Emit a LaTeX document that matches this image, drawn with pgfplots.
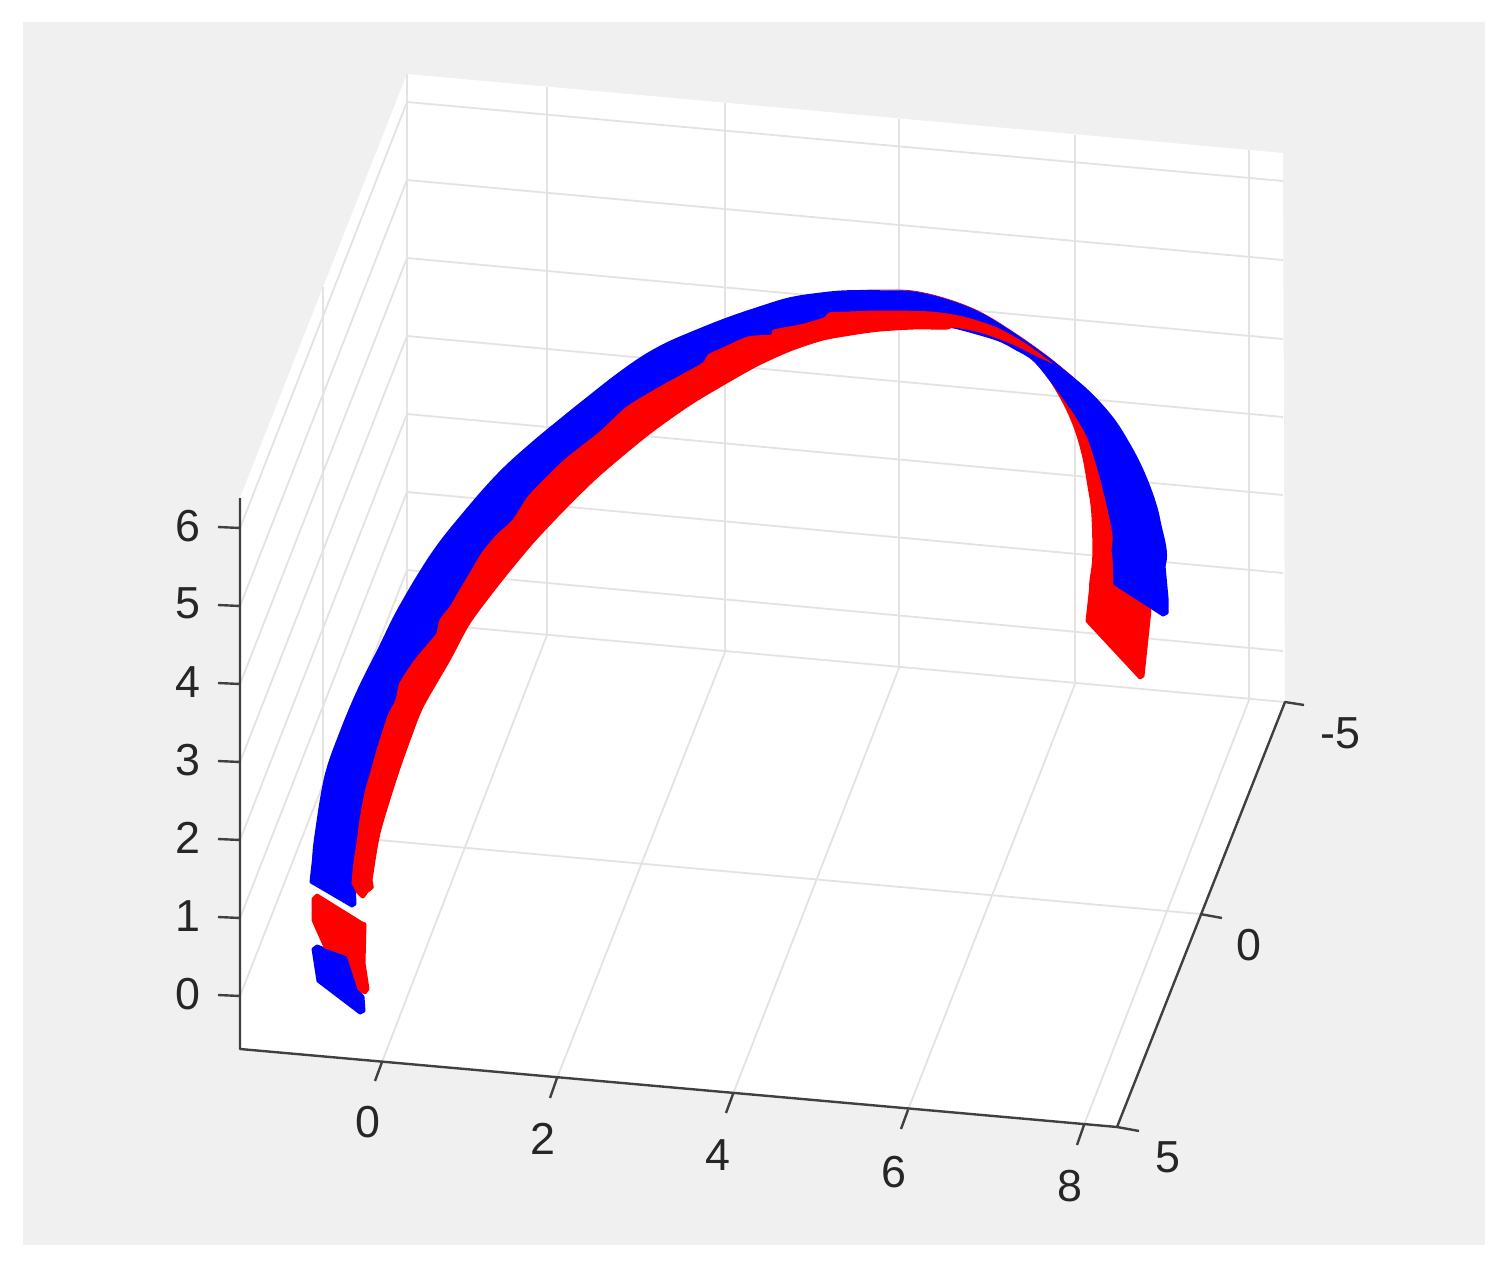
\documentclass[border=0pt]{standalone}
\usepackage{pgfplots}
\pgfplotsset{compat=1.18}
\usepackage{fontspec}
\setmainfont{Liberation Sans}
\definecolor{panel}{HTML}{F0F0F0}
\definecolor{gridc}{HTML}{E3E3E3}
\definecolor{axc}{HTML}{404040}
\definecolor{txt}{HTML}{262626}
\definecolor{rb}{rgb}{0,0,1}
\definecolor{rr}{rgb}{1,0,0}
\tikzset{lab/.style={font=\fontsize{45}{50}\selectfont, text=txt, inner sep=0pt, anchor=center}}
\begin{document}
\begin{tikzpicture}
\begin{axis}[
  hide axis, scale only axis, width=1511bp, height=1277bp,
  xmin=0, xmax=1511, ymin=0, ymax=1277, y dir=reverse,
  clip=false, unbounded coords=jump,
  every axis plot/.append style={line join=round},
]
% panel
\addplot[fill=white, draw=none] coordinates {(0,0)(1511,0)(1511,1277)(0,1277)} --cycle;
\addplot[fill=panel, draw=none] coordinates {(23,22)(1485,22)(1485,1245)(23,1245)} --cycle;
% white walls
\addplot[fill=white, draw=none] coordinates {(240,498)(407,74)(1283,153)(1285,702)(1117,1127)(240,1049)} --cycle;
% grid
\addplot[gridc, line width=1.8] coordinates {
 (407,102)(1283,181) (nan,nan) (407,180)(1283,260) (nan,nan) (407,258)(1283,339) (nan,nan)
 (407,336)(1283,417) (nan,nan) (407,414)(1283,495) (nan,nan) (407,492)(1283,573) (nan,nan)
 (407,570)(1283,651) (nan,nan)
 (407,102)(240,528) (nan,nan) (407,180)(240,606) (nan,nan) (407,258)(240,684) (nan,nan)
 (407,336)(240,762) (nan,nan) (407,414)(240,840) (nan,nan) (407,492)(240,918) (nan,nan)
 (407,570)(240,996) (nan,nan)
 (407,74)(407,622) (nan,nan) (547,87)(547,635) (nan,nan) (725,103)(725,652) (nan,nan)
 (899,119)(899,668) (nan,nan) (1075,135)(1075,684) (nan,nan) (1249,150)(1249,700) (nan,nan)
 (323,287)(323,835) (nan,nan)
 (407,622)(1285,702) (nan,nan) (323,835)(1200,914) (nan,nan)
 (547,635)(382,1062) (nan,nan) (725,652)(557,1078) (nan,nan) (899,668)(733,1094) (nan,nan)
 (1075,684)(908,1110) (nan,nan) (1249,700)(1084,1125)
};
% axes and ticks
\addplot[axc, line width=2.4] coordinates {
 (240,498)(240,1049)(1117,1127)(1285,702)(1304,705) (nan,nan)
 (218,527)(240,528) (nan,nan) (218,605)(240,606) (nan,nan) (218,683)(240,684) (nan,nan)
 (218,761)(240,762) (nan,nan) (218,839)(240,840) (nan,nan) (218,917)(240,918) (nan,nan)
 (218,995)(240,996) (nan,nan)
 (382,1062)(375,1081) (nan,nan) (557,1078)(550,1098) (nan,nan) (733,1094)(726,1113) (nan,nan)
 (908,1110)(901,1129) (nan,nan) (1084,1125)(1077,1145) (nan,nan)
 (1200,914)(1222,918) (nan,nan) (1117,1127)(1139,1131)
};
% tick labels
\node[lab] at (axis cs:188,526) {6};
\node[lab] at (axis cs:188,603) {5};
\node[lab] at (axis cs:188,682) {4};
\node[lab] at (axis cs:188,760) {3};
\node[lab] at (axis cs:188,838) {2};
\node[lab] at (axis cs:188,916) {1};
\node[lab] at (axis cs:188,994) {0};
\node[lab] at (axis cs:368,1122) {0};
\node[lab] at (axis cs:543,1139) {2};
\node[lab] at (axis cs:718,1155) {4};
\node[lab] at (axis cs:894,1172) {6};
\node[lab] at (axis cs:1070,1186) {8};
\node[lab] at (axis cs:1340,733) {-5};
\node[lab] at (axis cs:1249,945) {0};
\node[lab] at (axis cs:1168,1157) {5};
% red under blue: fringe along the crown, right end
\addplot[rr, line width=0.8, smooth, tension=0.6] coordinates {(860,290.4)(880,290)(913,291)(947,299)(980,312)(1013,332)(1047,356)(1075,379)};
\addplot[fill=rr, draw=rr, line width=1.5, smooth, tension=0.6] coordinates {
 (1033,358)(1043,370)(1055,388)(1067,410)(1076,432)(1083,457)(1088,485)(1092,513)(1093,557)(1090,590)(1100,600)
 (1115,583)(1113,533)(1090,443)(1067,400)
} --cycle;
\addplot[fill=rr, draw=rr, line width=3] coordinates {
 (1091,585)(1087,621)(1140,678)(1143,676)(1150,610)(1115,584)
} --cycle;
% blue band
\addplot[fill=rb, draw=rb, line width=1.5, smooth, tension=0.6] coordinates {
 (313,858)(315,837)(325,777)(340,733)(358,690)(378,650)(400,606)(433,552)(467,509)(500,472)(533,442)
 (567,414)(587,398)(615,376)(642,357)(665,344)(690,333)(725,319)(757,308)(790,298)(823,293)(847,291)(880,291)
 (913,292)(947,300)(980,313)(1013,333)(1047,357)(1067,373)(1085,388)(1100,403)(1115,421)(1127,440)(1138,460)
 (1147,480)(1155,502)(1160,522)(1166,560)(1150,590)(1125,580)(1113,555)(1113,533)(1103,487)(1090,443)
 (1079,421)(1067,403)(1050,380)(1033,360)(1015,349)(997,340)(963,330)(950,327)(950,327)
 (880,320)(790,340)(700,375)(620,420)(550,490)(470,600)(400,700)(365,800)(358,860)(358,860)
} --cycle;
\addplot[fill=rb, draw=rb, line width=3] coordinates {
 (1163,555)(1167,598)(1167,613)(1163,615)(1115,584)(1114,555)
} --cycle;
\addplot[fill=rb, draw=rb, line width=3] coordinates {
 (314,855)(311,882)(352,906)(355,904)(354,880)(358,855)
} --cycle;
% red band
\addplot[fill=rr, draw=rr, line width=1, smooth, tension=0.45] coordinates {
 (352,883)(352,883)(354,862)(357,843)(360,820)(365,793)(372,768)(378,747)(388,716)(396,700)(400,683)(415,660)
 (430,642)(437,633)(440,620)(450,607)(460,590)(472,570)(482,553)(497,535)(513,520)(528,497)(547,477)(567,458)
 (600,432)(627,407)(660,387)(680,376)(703,363)(708,355)(723,348)(748,337)(771,335)(774,330)(800,325)(824,318)
 (829,313)(850,312)(880,311)(930,312)(963,317)(997,328)(1027,345)(1050,362)(1050,362)
 (1033,354)(1013,344)(980,332)(953,327)(947,329)(913,329)(880,331)(857,334)(823,340)(790,351)(757,366)
 (725,384)(690,405)(648,435)(600,475)(567,507)(533,543)(500,583)(470,623)(450,660)(423,707)(410,740)(397,777)
 (380,833)(372,880)(372,880)(373,888)(368,892)(363,898)(357,893)(357,893)
} --cycle;
% lower pieces
\addplot[fill=rb, draw=rb, line width=3] coordinates {
 (313,949)(317,946)(325,949)(348,955)(358,990)(363,997)(364,1011)(360,1013)(318,981)
} --cycle;
\addplot[fill=rr, draw=rr, line width=3] coordinates {
 (313,899)(317,895)(362,923)(365,924)(364,963)(368,989)(365,993)(359,989)(348,955)(325,947)(316,927)(313,920)
} --cycle;
\end{axis}
\end{tikzpicture}
\end{document}
